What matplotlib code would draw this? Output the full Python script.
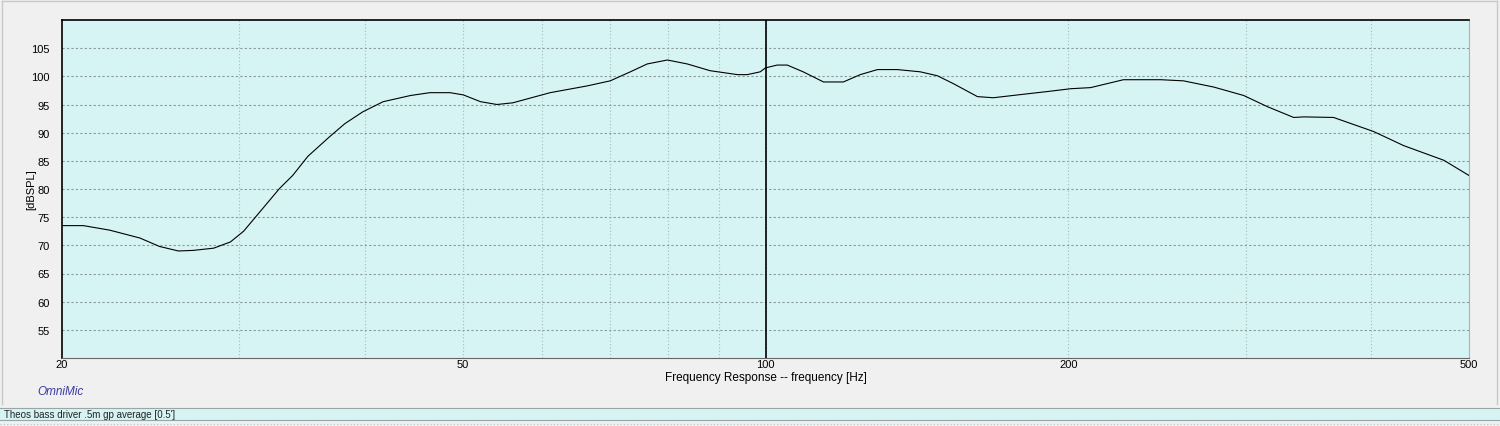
import matplotlib
matplotlib.use('Agg')
import matplotlib.pyplot as plt
from matplotlib.patches import Rectangle
from matplotlib.lines import Line2D
import numpy as np

plt.rcParams['font.family'] = ['Liberation Sans', 'DejaVu Sans']

# Datos (frecuencia en Hz, nivel en dBSPL)
freq_hz = [20.0, 21.0, 22.3, 23.9, 25.0, 26.1, 27.0, 28.3, 29.4, 30.3, 31.2,
           32.9, 33.9, 35.1, 36.9, 38.2, 39.8, 41.7, 44.4, 46.4, 48.6, 50.1,
           52.1, 54.1, 56.1, 61.1, 66.5, 70.1, 73.4, 76.3, 79.9, 83.6, 88.1,
           93.8, 95.9, 98.8, 100.0, 102.7, 105.1, 109.0, 114.2, 119.5, 124.2,
           129.2, 135.2, 142.5, 148.2, 153.7, 162.4, 168.4, 182.1, 190.6,
           201.0, 210.4, 226.8, 247.0, 260.2, 278.8, 298.6, 315.4, 334.8,
           342.6, 366.8, 402.0, 430.6, 472.0, 500.0]
spl_db = [73.5, 73.5, 72.7, 71.3, 69.8, 69.0, 69.1, 69.5, 70.6, 72.5, 75.2,
          80.1, 82.4, 85.8, 89.3, 91.6, 93.7, 95.5, 96.6, 97.1, 97.1, 96.7,
          95.5, 95.0, 95.3, 97.1, 98.3, 99.2, 100.8, 102.2, 102.9, 102.2, 101.0,
          100.3, 100.3, 100.8, 101.5, 102.0, 102.0, 100.8, 99.0, 99.0, 100.3,
          101.2, 101.2, 100.8, 100.1, 98.7, 96.4, 96.2, 96.9, 97.3,
          97.8, 98.0, 99.4, 99.4, 99.2, 98.1, 96.6, 94.6, 92.7,
          92.8, 92.7, 90.2, 87.7, 85.1, 82.4]

x_ticks = [20, 50, 100, 200, 500]
x_minor = [30, 40, 60, 70, 80, 90, 300, 400]
y_ticks = [55, 60, 65, 70, 75, 80, 85, 90, 95, 100, 105]
cursor_hz = 100

fig = plt.figure(figsize=(15, 4.27), dpi=100, facecolor='#f0f0f0')
ax = fig.add_axes([62/1500, 1-359/427, (1469-62)/1500, (359-21)/427])
ax.set_facecolor('#d6f4f4')

ax.plot(freq_hz, spl_db, color='black', lw=0.8, zorder=3)
ax.axvline(cursor_hz, color='black', lw=1.2, zorder=4)

ax.set_xscale('log')
ax.set_xlim(20, 500)
ax.set_ylim(50, 110)
ax.set_xticks(x_ticks)
ax.set_xticklabels([str(t) for t in x_ticks])
ax.set_xticks(x_ticks + x_minor, minor=True)
ax.xaxis.set_minor_formatter(plt.NullFormatter())
ax.set_yticks(y_ticks)
ax.tick_params(length=0, labelsize=8, which='both')
ax.tick_params(axis='y', pad=9)
ax.tick_params(axis='x', pad=1)

# Rejilla: horizontales a trazos, verticales punteadas
for y in y_ticks:
    ax.axhline(y, color='#8a9999', lw=0.8, ls=(0, (2, 2)), zorder=1)
for x in x_ticks[1:-1] + x_minor:
    ax.axvline(x, color='#a6baba', lw=0.8, ls=(0, (1, 2)), zorder=1)

for s in ['left', 'top']:
    ax.spines[s].set_color('black')
    ax.spines[s].set_linewidth(1.2)
ax.spines['bottom'].set_color('#666666')
ax.spines['right'].set_color('#b0b0b0')

ax.set_ylabel('[dBSPL]', fontsize=8)
ax.yaxis.set_label_coords(-0.0185, 0.5)
ax.set_xlabel('Frequency Response -- frequency [Hz]', fontsize=8.5, labelpad=1)

fig.text(37/1500, 1-392/427, 'OmniMic', color='#3a3aa0', fontsize=8.5,
         style='italic', va='center')

# Barra de estado inferior
fig.patches.append(Rectangle((0, 1-421/427), 1, 12/427, transform=fig.transFigure,
                             facecolor='#d6f4f4', edgecolor='none', zorder=0))
fig.lines.append(Line2D([0, 1], [1-409/427, 1-409/427], transform=fig.transFigure,
                        color='#9aa6a6', lw=0.8))
fig.lines.append(Line2D([0, 1], [1-421/427, 1-421/427], transform=fig.transFigure,
                        color='#9aa6a6', lw=0.8))
fig.lines.append(Line2D([0, 1], [1-425/427, 1-425/427], transform=fig.transFigure,
                        color='#a8c8c8', lw=0.8, ls=(0, (1, 2))))
fig.text(4/1500, 1-415/427, "Theos bass driver .5m gp average [0.5']",
         fontsize=7, va='center', color='#222222')

# Marco exterior
fig.lines.append(Line2D([2/1500, 2/1500], [1-405/427, 1-2/427], transform=fig.transFigure,
                        color='#c8c8c8', lw=1))
fig.lines.append(Line2D([2/1500, 1497/1500], [1-2/427, 1-2/427], transform=fig.transFigure,
                        color='#c8c8c8', lw=1))
fig.lines.append(Line2D([1497/1500, 1497/1500], [1-405/427, 1-2/427], transform=fig.transFigure,
                        color='#c8c8c8', lw=1))

fig.savefig('out.png', dpi=100, facecolor=fig.get_facecolor())
